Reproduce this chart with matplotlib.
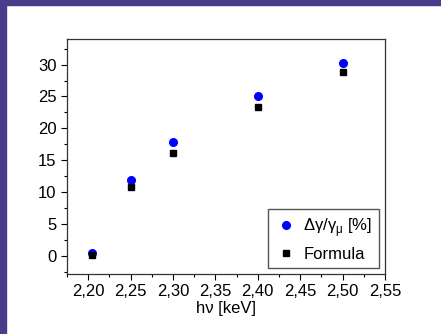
import matplotlib.pyplot as plt
from matplotlib.patches import Rectangle
from matplotlib.ticker import MultipleLocator, FuncFormatter

plt.rcParams['font.family'] = ['Liberation Sans', 'DejaVu Sans']
plt.rcParams['mathtext.fontset'] = 'custom'
plt.rcParams['mathtext.rm'] = 'Liberation Sans'

energy = [2.205, 2.25, 2.30, 2.40, 2.50]
delta_gamma = [0.5, 11.9, 17.9, 25.0, 30.3]
formula = [0.2, 10.9, 16.1, 23.3, 28.9]

fig = plt.figure(figsize=(4.41, 3.34), dpi=100)
ax = fig.add_axes([0.152, 0.1796, 0.721, 0.7036])

# purple frame on the left and top edges
fig.patches.append(Rectangle((0, 0), 6 / 441, 1, transform=fig.transFigure,
                             color='#483D8B', zorder=0))
fig.patches.append(Rectangle((0, 1 - 5 / 334), 1, 5 / 334, transform=fig.transFigure,
                             color='#483D8B', zorder=0))

ax.plot(energy, delta_gamma, 'o', color='#0000ff', markersize=5.5,
        label='Δγ/γ$_{\\mathregular{μ}}$ [%]', linestyle='none')
ax.plot(energy, formula, 's', color='black', markersize=5,
        label='Formula', linestyle='none')

ax.set_xlim(2.175, 2.55)
ax.set_ylim(-2.8, 34)
ax.xaxis.set_major_locator(MultipleLocator(0.05))
ax.xaxis.set_minor_locator(MultipleLocator(0.025))
ax.yaxis.set_major_locator(MultipleLocator(5))
ax.yaxis.set_minor_locator(MultipleLocator(2.5))
ax.xaxis.set_major_formatter(FuncFormatter(lambda v, p: f'{v:.2f}'.replace('.', ',')))
ax.tick_params(which='major', direction='out', length=4, width=0.8, labelsize=12,
               top=False, right=False)
ax.tick_params(which='minor', direction='out', length=2.5, width=0.8,
               top=False, right=False)
for s in ax.spines.values():
    s.set_color('#333333')
    s.set_linewidth(0.9)

ax.set_xlabel('hν [keV]', fontsize=12, labelpad=1)
ax.legend(loc='lower right', fontsize=12, fancybox=False, edgecolor='#555555',
          framealpha=1, handlelength=1.3, handletextpad=0.4, borderaxespad=0.35,
          borderpad=0.4, labelspacing=0.45)

plt.savefig('out.png', dpi=100)
